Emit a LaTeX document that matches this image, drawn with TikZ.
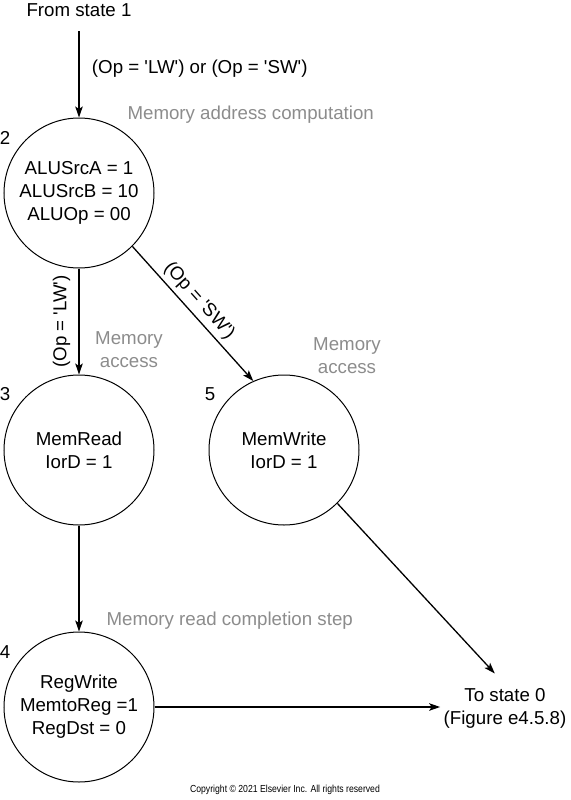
\documentclass[tikz,border=0pt]{standalone}
\usepackage{fontspec}
\setmainfont{Liberation Sans}
\usetikzlibrary{arrows.meta,positioning}
\newcommand{\sq}{\textquotesingle}

\begin{document}
\begin{tikzpicture}[
    x=1pt, y=-1pt,
    every node/.style={font=\fontsize{18.7}{23}\selectfont},
    state/.style={circle, draw, line width=1pt, minimum size=150pt,
                  inner sep=0pt, align=center},
    note/.style={text=black!45, align=center},
    arr/.style={->, >={Stealth[length=11pt,width=7.5pt,inset=2.5pt]}, line width=1.3pt},
  ]
  \useasboundingbox (0,0) rectangle (570,800);

  % === Entry ===
  \node (from1) at (79,10) {From state 1};

  % === State 2: memory address computation ===
  \node[state, label={[xshift=-5pt]143:2}] (s2) at (79,193)
    {ALUSrcA = 1\\ALUSrcB = 10\\ALUOp = 00};
  \node[note, anchor=west] (n2) at (124,115) {Memory address computation};

  \draw[arr, shorten <=11pt] (from1) -- (s2)
    node[midway, right=9pt] {(Op = \sq LW\sq) or (Op = \sq SW\sq)};

  % === States 3 and 5: memory access ===
  \node[state, label={[xshift=-5pt]143:3}] (s3) at (79,450) {MemRead\\IorD = 1};
  \node[state, label={[xshift=-5pt]143:5}] (s5) at (284,450) {MemWrite\\IorD = 1};
  \node[note] (n3) at (129,350) {Memory\\access};
  \node[note] (n5) at (347,356) {Memory\\access};

  \draw[arr] (s2) -- (s3)
    node[midway, rotate=90, anchor=south, inner sep=8pt] {(Op = \sq LW\sq)};
  \draw[arr] (s2.-45) -- (s5.114)
    node[pos=0.47, sloped, above, inner sep=4pt] {(Op = \sq SW\sq)};

  % === State 4: write back ===
  \node[state, label={[xshift=-5pt]143:4}] (s4) at (79,707)
    {RegWrite\\MemtoReg =1\\RegDst = 0};
  \node[note, anchor=west] (n4) at (103,621) {Memory read completion step};
  \draw[arr] (s3) -- (s4);

  % === Back to state 0 ===
  \node[align=center] (to0) at (505,708) {To state 0\\(Figure e4.5.8)};
  \draw[arr] (s4.east) -- (s4.east -| to0.west);
  \draw[arr, shorten >=15pt] (s5.-45) -- (to0.north);

  \node (copy) at (285,790)
    {\fontsize{10.2}{12}\selectfont\scalebox{0.85}[1]{Copyright \textcopyright{} 2021 Elsevier Inc. All rights reserved}};

\end{tikzpicture}
\end{document}
